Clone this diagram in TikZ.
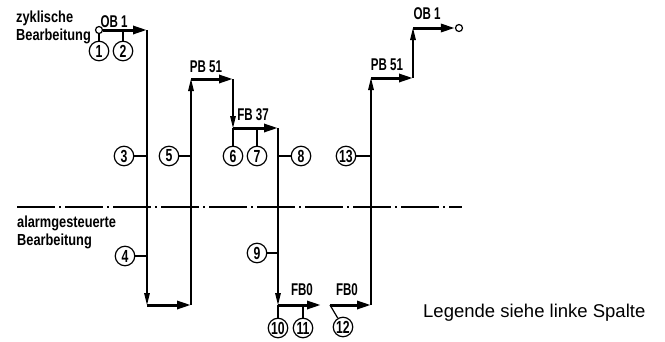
\documentclass[tikz,border=0pt]{standalone}
\usepackage{fontspec}
\setmainfont{Liberation Sans}
\newfontfamily\condfont[FakeStretch=0.68]{Liberation Sans}
\newfontfamily\numfont[FakeStretch=0.7]{Liberation Sans}
\newfontfamily\sidefont[FakeStretch=0.8]{Liberation Sans}
\usetikzlibrary{arrows.meta}

\begin{document}
\begin{tikzpicture}[x=1pt,y=-1pt,
  flow/.style={line width=1.3pt,-{Triangle[length=12pt,width=5.5pt]}},
  call/.style={line width=3pt,-{Triangle[length=14pt,width=8pt]}},
  tick/.style={line width=1.2pt},
  num/.style={draw,circle,line width=1.2pt,minimum size=19.5pt,inner sep=0pt,
              font=\numfont\bfseries\fontsize{17.5}{17.5}\selectfont},
  blk/.style={anchor=base,inner sep=0pt,font=\condfont\bfseries\fontsize{17}{17}\selectfont},
  side/.style={anchor=base west,align=left,inner sep=0pt,
               font=\sidefont\bfseries\fontsize{16}{17.5}\selectfont},
  endpt/.style={draw,circle,line width=1.2pt,minimum size=7pt,inner sep=0pt,fill=white}]
\useasboundingbox (0,0) rectangle (665,341);

\coordinate (a1) at (147,30);
\coordinate (a2) at (147,305);
\coordinate (b1) at (191,305);
\coordinate (b2) at (191,79);
\coordinate (c1) at (233,79);
\coordinate (c2) at (233,128);
\coordinate (d1) at (278,128);
\coordinate (d2) at (278,305);
\coordinate (e1) at (321,305);
\coordinate (f0) at (330,305);
\coordinate (f1) at (371,305);
\coordinate (g1) at (371,78);
\coordinate (g2) at (413,78);
\coordinate (h1) at (413,28);

\coordinate (sepl) at (17,207);
\coordinate (sepr) at (462,207);
\draw[line width=1.2pt,dash pattern=on 38pt off 4pt on 2pt off 4pt] (sepl) -- (sepr);

\node[side] (zykl) at (16,40) {zyklische\\Bearbeitung};
\node[side] (alarm) at (17,245) {alarmgesteuerte\\Bearbeitung};
\node[anchor=base west,inner sep=0pt,font=\fontsize{18.5}{20}\selectfont] (leg)
  at (423,317) {Legende siehe linke Spalte};

\node[endpt] (s0) at (99,30) {};
\node[endpt] (s1) at (459,28) {};

\draw[flow] (a1) -- (a2);
\draw[flow] (b1) -- (b2);
\draw[flow] (c1) -- (c2);
\draw[flow] (d1) -- (d2);
\draw[flow] (f1) -- (g1);
\draw[flow] (g2) -- (h1);

\draw[call] (s0) -- (a1);
\draw[call] (a2) -- (b1);
\draw[call] (b2) -- (c1);
\draw[call] (c2) -- (d1);
\draw[call] (d2) -- (e1);
\draw[call] (f0) -- (f1);
\draw[call] (g1) -- (g2);
\draw[call] (h1) -- (s1);

\node[blk] (ob1a) at (114,27) {OB 1};
\node[blk] (pb51a) at (206,72) {PB 51};
\node[blk] (fb37) at (253,120) {FB 37};
\node[blk] (fb0a) at (302,295) {FB0};
\node[blk] (fb0b) at (347,295) {FB0};
\node[blk] (pb51b) at (387,70) {PB 51};
\node[blk] (ob1b) at (427,19) {OB 1};

\node[num] (n1) at (99,51) {1};
\node[num] (n2) at (123,51) {2};
\node[num] (n3) at (124,156) {3};
\node[num] (n4) at (125,256) {4};
\node[num] (n5) at (169,156) {5};
\node[num] (n6) at (233,156) {6};
\node[num] (n7) at (257,156) {7};
\node[num] (n8) at (301,156) {8};
\node[num] (n9) at (257,253) {9};
\node[num] (n10) at (278,328) {10};
\node[num] (n11) at (303,328) {11};
\node[num] (n12) at (343,327) {12};
\node[num] (n13) at (346,156) {13};

\draw[tick] (n1) -- (s0);
\draw[tick] (n2) -- (n2 |- a1);
\draw[tick] (n3) -- (n3 -| a1);
\draw[tick] (n4) -- (n4 -| a1);
\draw[tick] (n5) -- (n5 -| b1);
\draw[tick] (n6) -- (c2);
\draw[tick] (n7) -- (n7 |- d1);
\draw[tick] (n8) -- (n8 -| d1);
\draw[tick] (n9) -- (n9 -| d2);
\draw[tick] (n10) -- (d2);
\draw[tick] (n11) -- (n11 |- d2);
\draw[tick] (n12) -- (f0);
\draw[tick] (n13) -- (n13 -| f1);
\end{tikzpicture}
\end{document}
